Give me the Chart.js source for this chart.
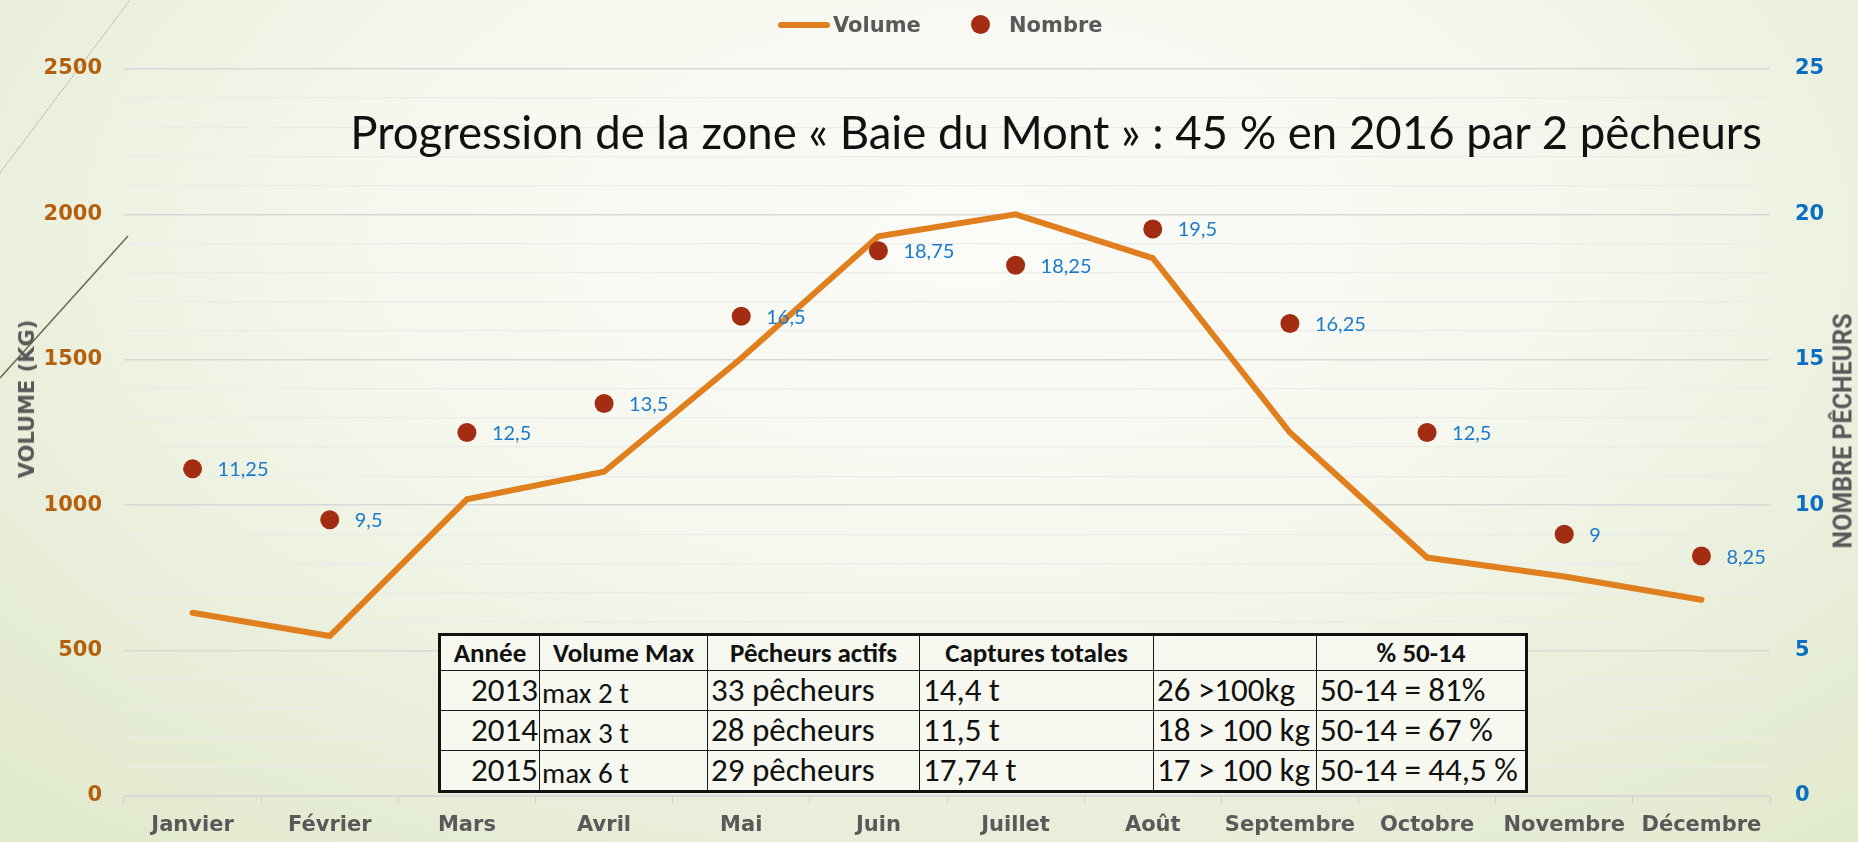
<!DOCTYPE html>
<html lang="fr">
<head>
<meta charset="utf-8">
<title>Baie du Mont</title>
<script src="https://cdn.jsdelivr.net/npm/chart.js@4.4.1/dist/chart.umd.min.js"></script>
<style>
  html, body { margin: 0; padding: 0; }
  body {
    width: 1858px; height: 842px; overflow: hidden; position: relative;
    background: radial-gradient(ellipse 75% 95% at 52% 28%, #fbfbf8 0%, #f6f8ef 40%, #e8eed9 75%, #e1e9cc 100%);
  }
  #zone { position: absolute; left: 0; top: 0; width: 1858px; height: 842px; }
  .deco { position: absolute; left: 0; top: 0; }
  .legende { position: absolute; font: bold 21px "DejaVu Sans", sans-serif; color: #595959; line-height: 26px; }
  .titre-axe { position: absolute; white-space: nowrap; color: #595959; transform: translate(-50%, -50%) rotate(-90deg); }
  #titre {
    position: absolute; right: 96px; top: 112px; white-space: nowrap;
    font: 400 42px Lato, sans-serif; line-height: 42px; color: #111;
  }
  #tableau {
    position: absolute; left: 438px; top: 633px; width: 1087px;
    border-collapse: collapse; table-layout: fixed;
    background: #f7f8f0; border: 3px solid #111;
    font-family: Carlito, Calibri, Roboto, sans-serif; color: #111;
  }
  #tableau th, #tableau td { border: 1.5px solid #1a1a1a; padding: 0 3px; white-space: nowrap; overflow: hidden; }
  #tableau th { font-weight: bold; font-size: 27px; height: 34px; line-height: 32px; text-align: center; }
  #tableau td { font-size: 33px; height: 39px; line-height: 37px; text-align: left; }
  #tableau td.annee { text-align: right; padding-right: 1px; }
  #tableau td.petit { font-size: 29px; vertical-align: bottom; padding-left: 2px; line-height: 33px; }
</style>
</head>
<body>
<svg class="deco" width="200" height="420">
  <line x1="0" y1="173" x2="130" y2="0" stroke="#a9ab98" stroke-width="1" stroke-dasharray="2 1"/>
  <line x1="0" y1="378" x2="128" y2="236" stroke="#756c55" stroke-width="1.6"/>
</svg>
<div id="zone"><canvas id="graphique"></canvas></div>

<div class="legende" style="left:778px;top:22px;width:52px;height:6px;border-radius:3px;background:#E07F1D"></div>
<div class="legende" style="left:833px;top:12px">Volume</div>
<div class="legende" style="left:971px;top:15px;width:19px;height:19px;border-radius:50%;background:#A22D12"></div>
<div class="legende" style="left:1009px;top:12px">Nombre</div>

<div id="titre">Progression de la zone « Baie du Mont » : 45 % en 2016 par 2 pêcheurs</div>

<div class="titre-axe" style="left:27px;top:399px;font:bold 21px 'DejaVu Sans',sans-serif">VOLUME (KG)</div>
<div class="titre-axe" style="left:1843px;top:431px;font:bold 25px Roboto,sans-serif">NOMBRE PÊCHEURS</div>

<table id="tableau">
  <colgroup>
    <col style="width:100px"><col style="width:168px"><col style="width:212px">
    <col style="width:234px"><col style="width:163px"><col style="width:210px">
  </colgroup>
  <thead>
    <tr><th>Année</th><th>Volume Max</th><th>Pêcheurs actifs</th><th>Captures totales</th><th></th><th>% 50-14</th></tr>
  </thead>
  <tbody id="lignes"></tbody>
</table>

<script>
// Données mensuelles
const mois = ['Janvier', 'Février', 'Mars', 'Avril', 'Mai', 'Juin', 'Juillet', 'Août', 'Septembre', 'Octobre', 'Novembre', 'Décembre'];
const volume = [630, 550, 1020, 1115, 1505, 1925, 2000, 1850, 1250, 820, 755, 675];
const nombre = [11.25, 9.5, 12.5, 13.5, 16.5, 18.75, 18.25, 19.5, 16.25, 12.5, 9, 8.25];

// Bilan des années précédentes
const annees = ['2013', '2014', '2015'];
const volumeMax = ['max 2 t', 'max 3 t', 'max 6 t'];
const pecheursActifs = ['33 pêcheurs', '28 pêcheurs', '29 pêcheurs'];
const capturesTotales = ['14,4 t', '11,5 t', '17,74 t'];
const plus100kg = ['26 >100kg', '18 > 100 kg', '17 > 100 kg'];
const pourcentage = ['50-14 = 81%', '50-14 = 67 %', '50-14 = 44,5 %'];

const orange = '#E07F1D';
const rouge = '#A22D12';
const gris = '#595959';

// Remplit le tableau
const tbody = document.getElementById('lignes');
annees.forEach((a, i) => {
    const tr = document.createElement('tr');
    tr.innerHTML = `<td class="annee">${a}</td><td class="petit">${volumeMax[i]}</td><td>${pecheursActifs[i]}</td>` +
        `<td>${capturesTotales[i]}</td><td>${plus100kg[i]}</td><td>${pourcentage[i]}</td>`;
    tbody.appendChild(tr);
});

// Etiquettes des points (nombre de pêcheurs)
const etiquettes = {
    id: 'etiquettes',
    afterDatasetsDraw(chart) {
        const meta = chart.getDatasetMeta(1);
        const ctx = chart.ctx;
        ctx.save();
        ctx.font = '20px Lato';
        ctx.fillStyle = '#1B7BCB';
        ctx.textBaseline = 'middle';
        meta.data.forEach((pt, i) => {
            ctx.fillText(String(nombre[i]).replace('.', ','), pt.x + 25, pt.y + 1);
        });
        ctx.restore();
    }
};

const policeAxe = { family: 'DejaVu Sans', size: 21, weight: 'bold' };

new Chart(document.getElementById('graphique'), {
    type: 'line',
    data: {
        labels: mois,
        datasets: [{
            label: 'Volume',
            data: volume,
            yAxisID: 'yVol',
            borderColor: orange,
            backgroundColor: orange,
            borderWidth: 6,
            borderCapStyle: 'round',
            pointRadius: 0,
            tension: 0,
            order: 2
        }, {
            label: 'Nombre',
            data: nombre,
            yAxisID: 'yNb',
            showLine: false,
            pointRadius: 9.5,
            pointBackgroundColor: rouge,
            pointBorderWidth: 0,
            backgroundColor: rouge,
            order: 1
        }]
    },
    options: {
        responsive: true,
        maintainAspectRatio: false,
        animation: false,
        layout: { padding: { top: 69, left: 0, right: 0, bottom: 0 } },
        plugins: {
            legend: { display: false },
            tooltip: { enabled: false }
        },
        scales: {
            x: {
                offset: true,
                grid: { offset: true, drawOnChartArea: false, drawTicks: true, tickLength: 8, color: '#d2d2d2' },
                border: { color: '#d6d6d6' },
                ticks: { font: policeAxe, color: gris, padding: 9, maxRotation: 0, autoSkip: false },
                afterFit(scale) { scale.height = 46; }
            },
            yVol: {
                position: 'left',
                min: 0,
                max: 2500,
                grid: {
                    drawTicks: false,
                    color: c => c.tick.value % 500 === 0 ? '#d8d8d8' : '#ebebea',
                    lineWidth: c => c.tick.value % 500 === 0 ? 1.6 : 1.2
                },
                border: { display: false },
                ticks: {
                    stepSize: 100,
                    autoSkip: false,
                    padding: 22,
                    font: policeAxe,
                    color: '#B3610F',
                    callback: v => v % 500 === 0 ? v : ''
                },
                afterFit(scale) { scale.width = 124; }
            },
            yNb: {
                position: 'right',
                min: 0,
                max: 25,
                grid: { drawOnChartArea: false, drawTicks: false },
                border: { display: false },
                ticks: { stepSize: 5, padding: 25, font: policeAxe, color: '#0A6FC2' },
                afterFit(scale) { scale.width = 88; }
            }
        }
    },
    plugins: [etiquettes]
});

// Ajuste le titre sur la largeur voulue
const titre = document.getElementById('titre');
const largeur = titre.getBoundingClientRect().width;
const taille = 42 * 1412 / largeur;
titre.style.fontSize = taille + 'px';
titre.style.lineHeight = taille + 'px';
titre.style.top = (149 - 0.887 * taille) + 'px';
</script>
</body>
</html>
